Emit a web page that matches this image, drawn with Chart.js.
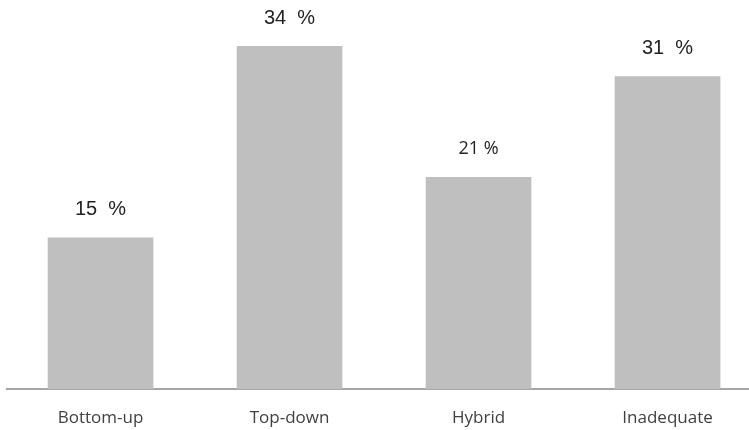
<!DOCTYPE html>
<html lang="en">
<head>
  <meta charset="UTF-8" />
  <title>Approach shares</title>
  <script src="https://cdn.jsdelivr.net/npm/chart.js"></script>
  <style>
    html, body { margin: 0; padding: 0; background: #fff; }
    #wrap { width: 749px; height: 430px; }
  </style>
</head>
<body>
<div id="wrap"><canvas id="chart" width="749" height="430"></canvas></div>

<script>
const categories = ['Bottom-up', 'Top-down', 'Hybrid', 'Inadequate'];
const shares = [15, 34, 21, 31];
const shareLabels = ['15  %', '34  %', '21 %', '31  %'];
const labelFonts = ['20px "Liberation Sans"', '20px "Liberation Sans"', '18px "Open Sans"', '20px "Liberation Sans"'];

// draws the percent text above each bar
const valueLabels = {
  id: 'valueLabels',
  afterDatasetsDraw(chart) {
    const ctx = chart.ctx;
    const meta = chart.getDatasetMeta(0);
    ctx.save();
    ctx.fillStyle = '#222';
    ctx.textAlign = 'center';
    ctx.textBaseline = 'middle';
    meta.data.forEach((bar, i) => {
      ctx.font = labelFonts[i];
      ctx.fillText(shareLabels[i], bar.x, bar.y - 28);
    });
    ctx.restore();
  }
};

const chart = new Chart(document.getElementById('chart').getContext('2d'), {
  type: 'bar',
  data: {
    datasets: [{
      data: shares.map((v, i) => ({ x: i + 1, y: v })),
      backgroundColor: '#bfbfbf',
      barThickness: 105,
      borderWidth: 0
    }]
  },
  options: {
    responsive: false,
    animation: false,
    layout: { padding: { left: 7, right: 0, top: 0, bottom: 0 } },
    plugins: { legend: { display: false }, tooltip: { enabled: false } },
    scales: {
      x: {
        type: 'linear',
        offset: false,
        min: 0.505,
        max: 4.431,
        afterFit: scale => { scale.height = 41; },
        grid: { display: false, drawTicks: false },
        border: { display: true, color: '#a6a6a6', width: 2 },
        ticks: {
          stepSize: 1,
          includeBounds: false,
          autoSkip: false,
          maxRotation: 0,
          padding: 19,
          color: '#404040',
          font: { family: 'Open Sans', size: 17 },
          callback: v => Number.isInteger(v) ? categories[v - 1] : ''
        }
      },
      y: {
        display: false,
        min: 0,
        max: 38.6
      }
    }
  },
  plugins: [valueLabels]
});
</script>
</body>
</html>
